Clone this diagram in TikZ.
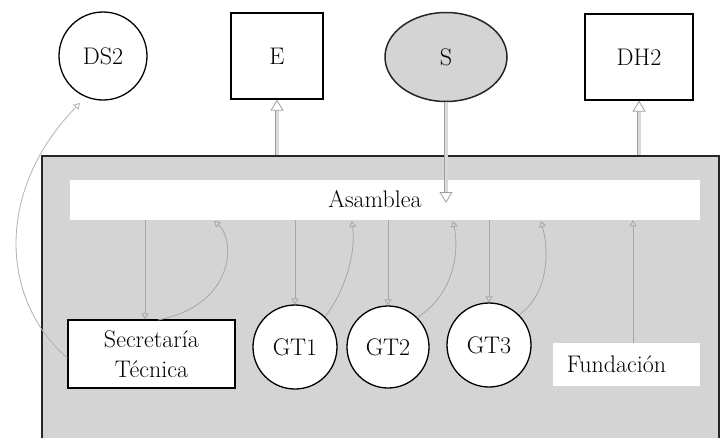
\documentclass[tikz,border=0pt]{standalone}
\usepackage{fontspec}
\usetikzlibrary{arrows.meta,shapes.geometric}
\newcommand{\lblfont}{\fontsize{24}{28}\selectfont}
\newcommand{\twolinefont}{\fontsize{24}{30}\selectfont}
\begin{document}
\begin{tikzpicture}[x=1pt,y=-1pt,
  shade/.style={fill=black!17},
  boxnode/.style={draw=black, line width=1.3pt, fill=white, font=\lblfont, inner sep=0pt},
  roundnode/.style={circle, draw=black, line width=1.3pt, fill=white, font=\lblfont, inner sep=0pt},
  flow/.style={draw=gray!75, line width=0.9pt, double=black!15, double distance=3pt,
    -{Triangle[length=11pt, width=13pt, fill=white, line width=0.8pt]}},
  thinlink/.style={draw=gray!70, line width=0.8pt,
    -{Triangle[open, length=6pt, width=7pt]}}
]
\useasboundingbox (0,0) rectangle (721,437);
\clip (0,0) rectangle (721,437);
\fill[white] (0,0) rectangle (721,437);

% organisation frame
\node[draw=black!85, line width=2pt, shade, minimum width=677pt, minimum height=300pt,
      inner sep=0pt, anchor=north west] (org) at (41,155) {};

% assembly bar
\node[fill=white, minimum width=630pt, minimum height=40pt, inner sep=0pt] (asm) at (385,200) {};
\node[font=\lblfont, inner sep=0pt] (asmlbl) at (375,199) {Asamblea};

% outer actors
\node[roundnode, minimum size=88pt] (ds2) at (103,56) {DS2};
\node[boxnode, minimum width=92pt, minimum height=86pt] (e) at (277,56) {E};
\node[ellipse, draw=black!85, line width=1.5pt, shade, font=\lblfont,
      minimum width=122pt, minimum height=89pt, inner sep=0pt] (s) at (446,57) {S};
\node[boxnode, minimum width=108pt, minimum height=86pt] (dh2) at (639,57) {DH2};

% inner units
\node[boxnode, minimum width=167pt, minimum height=68pt, align=center,
      font=\twolinefont] (sec) at (151.5,354) {Secretaría\\Técnica};
\node[roundnode, minimum size=84pt] (gt1) at (295,347) {GT1};
\node[roundnode, minimum size=82pt] (gt2) at (388,347) {GT2};
\node[roundnode, minimum size=84pt] (gt3) at (489,345) {GT3};
\node[fill=white, minimum width=147pt, minimum height=43pt, inner sep=0pt,
      font=\lblfont] (fund) at (626.5,364.5) {\hspace*{-20pt}Fundación};

% links with the outside
\draw[flow] (org.north -| e) -- (e.south);
\draw[flow] (org.north -| dh2) -- (dh2.south);
\draw[flow] (s.south) -- ([yshift=-3pt]s.south |- asm);
\draw[thinlink, draw=gray!60] ([yshift=-4pt]sec.west)
  .. controls (0,300) and (-5,190) .. (80,103);

% links inside the organisation
\draw[thinlink] ([xshift=-6.5pt]sec.north |- asm.south) -- ([xshift=-6.5pt]sec.north);
\draw[thinlink] (158,320) .. controls (235,305) and (236,240) .. (214,221);
\draw[thinlink] (gt1.north |- asm.south) -- (gt1.north);
\draw[thinlink] (gt1.45) .. controls (345,290) and (356,255) .. (352,221);
\draw[thinlink] (gt2.north |- asm.south) -- (gt2.north);
\draw[thinlink] (gt2.45) .. controls (452,295) and (460,255) .. (453,221);
\draw[thinlink] (gt3.north |- asm.south) -- (gt3.north);
\draw[thinlink] (gt3.45) .. controls (547,295) and (550,255) .. (541,221);
\draw[thinlink] ([xshift=6.5pt]fund.north) -- ([xshift=6.5pt]fund.north |- asm.south);
\end{tikzpicture}
\end{document}
